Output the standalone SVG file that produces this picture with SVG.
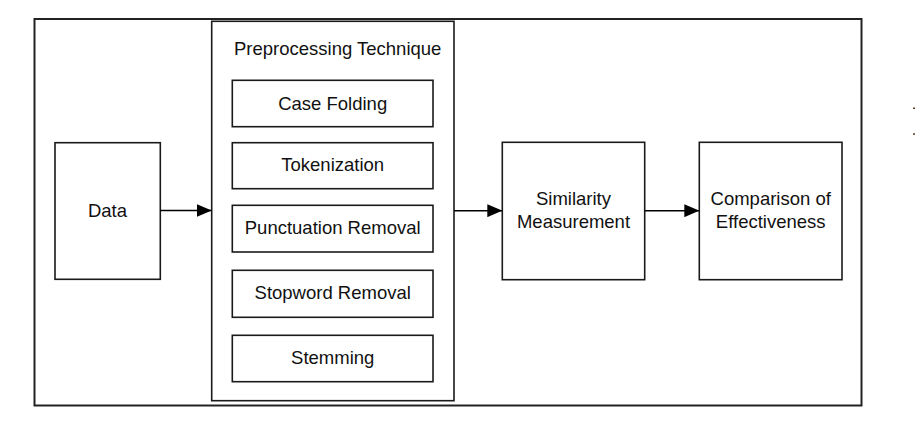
<svg xmlns="http://www.w3.org/2000/svg" width="915" height="422" viewBox="0 0 915 422">
<style>
.box{fill:#fff;stroke:#1a1a1a;stroke-width:1.6}
.frame{fill:#fff;stroke:#222;stroke-width:2}
.t{font-family:"Liberation Sans",Arial,sans-serif;font-size:18.5px;fill:#111;text-anchor:middle}
.c{stroke:#000;stroke-width:1.6;fill:none}
</style>
<defs>
<marker id="ah" viewBox="0 0 15 13" refX="15" refY="6.5" markerWidth="15" markerHeight="13" markerUnits="userSpaceOnUse" orient="auto">
<path d="M0,0 L15,6.5 L0,13 Z" fill="#000"/>
</marker>
</defs>
<rect width="915" height="422" fill="#fff"/>
<rect class="frame" x="34.5" y="19" width="827" height="386.5"/>
<g id="preprocessing">
<rect class="box" x="211.7" y="21.3" width="242.3" height="379.4"/>
<text class="t" x="337.7" y="55">Preprocessing Technique</text>
</g>
<g id="case-folding">
<rect class="box" x="232.3" y="80.3" width="200.7" height="46.4"/>
<text class="t" x="332.7" y="109.5">Case Folding</text>
</g>
<g id="tokenization">
<rect class="box" x="232.3" y="142.7" width="200.7" height="46"/>
<text class="t" x="332.7" y="171">Tokenization</text>
</g>
<g id="punctuation-removal">
<rect class="box" x="232.3" y="205.3" width="200.7" height="46.7"/>
<text class="t" x="332.7" y="234.3">Punctuation Removal</text>
</g>
<g id="stopword-removal">
<rect class="box" x="232.3" y="270.3" width="200.7" height="47"/>
<text class="t" x="332.7" y="299.3">Stopword Removal</text>
</g>
<g id="stemming">
<rect class="box" x="232.3" y="335.3" width="200.7" height="46.4"/>
<text class="t" x="332.7" y="364.3">Stemming</text>
</g>
<g id="data">
<rect class="box" x="55" y="142.7" width="105.3" height="136.6"/>
<text class="t" x="107.5" y="216.7">Data</text>
</g>
<g id="similarity">
<rect class="box" x="502.3" y="142.3" width="142.4" height="137.4"/>
<text class="t" x="573.5" y="205">Similarity</text>
<text class="t" x="573.5" y="227.7">Measurement</text>
</g>
<g id="comparison">
<rect class="box" x="699.3" y="142.3" width="142.7" height="137.4"/>
<text class="t" x="770.7" y="205">Comparison of</text>
<text class="t" x="770.7" y="227.7">Effectiveness</text>
</g>
<g id="connectors">
<line class="c" x1="160.3" y1="210.5" x2="211.7" y2="210.5" marker-end="url(#ah)"/>
<line class="c" x1="454" y1="210.7" x2="502.3" y2="210.7" marker-end="url(#ah)"/>
<line class="c" x1="644.7" y1="210.7" x2="699.3" y2="210.7" marker-end="url(#ah)"/>
</g>
<rect x="913" y="107.5" width="2" height="1.5" fill="#5a3a1a"/>
<rect x="913" y="133.3" width="2" height="1.5" fill="#5a3a1a"/>
</svg>
